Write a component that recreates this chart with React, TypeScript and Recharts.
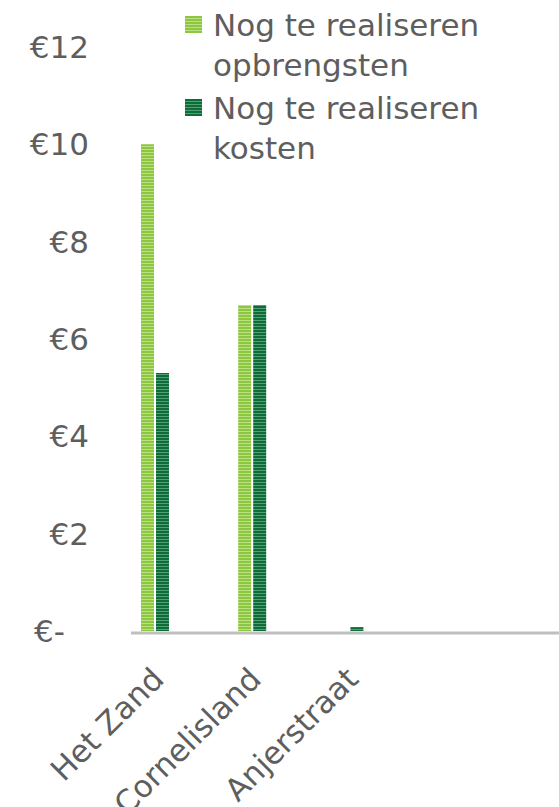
import React from "react";
import { BarChart, Bar, XAxis, YAxis } from "recharts";

// projecten (laatste twee zijn lege plekken op de as)
const categories = ["Het Zand", "Cornelisland", "Anjerstraat", " ", "  "];
const opbrengsten = [10.0, 6.7, 0, null, null];
const kosten = [5.3, 6.7, 0.08, null, null];
const yTicks = [0, 2, 4, 6, 8, 10, 12];
const seriesNames = ["Nog te realiseren opbrengsten", "Nog te realiseren kosten"];

const data = categories.map((name, i) => ({
  name,
  opbrengsten: opbrengsten[i],
  kosten: kosten[i],
}));

const FONT = "'DejaVu Sans', Verdana, sans-serif";
const TEXT = "#5e5e5e";
const LIGHT = "#8dc63f";
const LIGHT_STRIPE = "#bddf86";
const DARK = "#0e6b3a";
const DARK_STRIPE = "#54a074";

const stripes = (main: string, light: string) =>
  `repeating-linear-gradient(to bottom, ${main} 0px, ${main} 2px, ${light} 2px, ${light} 3px)`;

function YTick(props: any) {
  const { x, y, payload } = props;
  const v = payload.value;
  return (
    <text
      x={v === 0 ? x - 24 : x}
      y={y}
      dy="0.36em"
      textAnchor="end"
      fill={TEXT}
      fontSize={31}
      fontFamily={FONT}
    >
      {v === 0 ? "€-" : `€${v}`}
    </text>
  );
}

function XTick(props: any) {
  const { x, y, payload } = props;
  const tx = x + 11;
  const ty = y + 50;
  return (
    <text
      x={tx}
      y={ty}
      transform={`rotate(-45, ${tx}, ${ty})`}
      textAnchor="end"
      fill={TEXT}
      fontSize={31}
      fontFamily={FONT}
    >
      {payload.value}
    </text>
  );
}

function LegendBox() {
  const colors = [
    [LIGHT, LIGHT_STRIPE],
    [DARK, DARK_STRIPE],
  ];
  return (
    <div style={{ position: "absolute", left: 185, top: 5, fontFamily: FONT, color: TEXT }}>
      {seriesNames.map((s, i) => (
        <div key={s} style={{ display: "flex", alignItems: "flex-start", marginBottom: 3 }}>
          <div
            style={{
              width: 17,
              height: 17,
              marginTop: 11,
              marginRight: 11,
              background: stripes(colors[i][0], colors[i][1]),
            }}
          />
          <div style={{ fontSize: 31, lineHeight: "40px", width: 300 }}>{s}</div>
        </div>
      ))}
    </div>
  );
}

export default function App() {
  return (
    <div
      style={{
        position: "absolute",
        left: 0,
        top: 0,
        width: 559,
        height: 807,
        overflow: "hidden",
        background: "#fff",
      }}
    >
      <BarChart
        width={592}
        height={807}
        data={data}
        barSize={13}
        barGap={2}
        margin={{ top: 47, right: 0, bottom: 0, left: 0 }}
      >
        <defs>
          <pattern id="lightStripes" width="4" height="3" patternUnits="userSpaceOnUse">
            <rect width="4" height="3" fill={LIGHT} />
            <rect y="2" width="4" height="1" fill={LIGHT_STRIPE} />
          </pattern>
          <pattern id="darkStripes" width="4" height="3" patternUnits="userSpaceOnUse">
            <rect width="4" height="3" fill={DARK} />
            <rect y="2" width="4" height="1" fill={DARK_STRIPE} />
          </pattern>
        </defs>
        <XAxis
          dataKey="name"
          height={176}
          interval={0}
          padding={{ left: -25, right: 0 }}
          axisLine={{ stroke: "#bfbfbf", strokeWidth: 3, transform: "translate(0, 2)" }}
          tickLine={false}
          tickSize={0}
          tickMargin={0}
          tick={<XTick />}
        />
        <YAxis
          width={131}
          domain={[0, 12]}
          ticks={yTicks}
          axisLine={false}
          tickLine={false}
          tickSize={0}
          tickMargin={42}
          tick={<YTick />}
        />
        <Bar dataKey="opbrengsten" name={seriesNames[0]} fill="url(#lightStripes)" isAnimationActive={false} />
        <Bar dataKey="kosten" name={seriesNames[1]} fill="url(#darkStripes)" isAnimationActive={false} />
      </BarChart>
      <LegendBox />
    </div>
  );
}
